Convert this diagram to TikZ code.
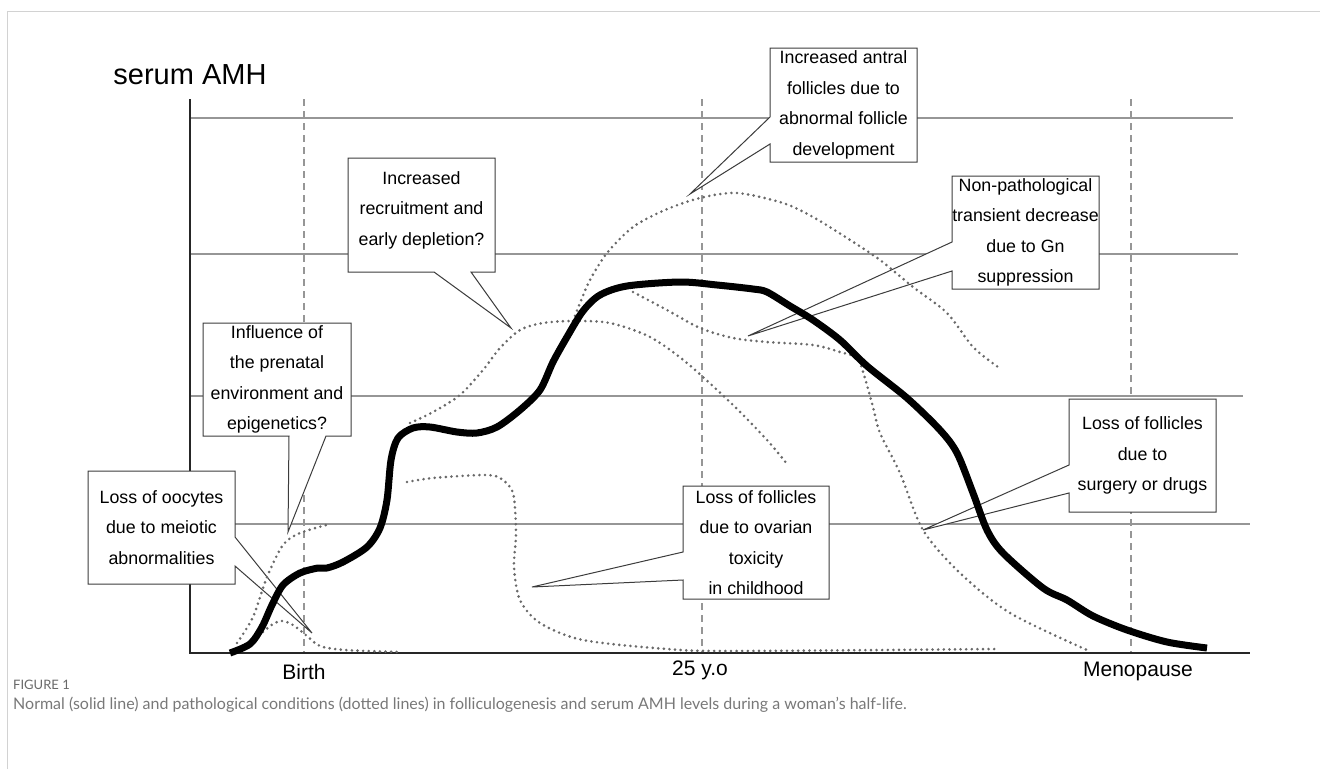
\documentclass[tikz,border=0pt]{standalone}
\usepackage{fontspec}
\setmainfont{Liberation Sans}
\newfontfamily\capfont{Lato}
\begin{document}
\begin{tikzpicture}[x=1pt,y=-1pt,
  gridline/.style={draw={rgb,255:red,150;green,150;blue,150},line width=1.2pt},
  vdash/.style={draw={rgb,255:red,150;green,150;blue,150},line width=1.2pt,dash pattern=on 7pt off 5pt},
  axisline/.style={draw=black!85,line width=1.5pt},
  callout/.style={draw={rgb,255:red,60;green,60;blue,60},fill=white,line width=1pt,line join=miter},
  boxtext/.style={align=center,inner sep=0pt,font=\fontsize{17.8}{30.5}\selectfont},
  axlabel/.style={anchor=base,inner sep=0pt,font=\fontsize{21}{24}\selectfont},
  normal/.style={draw=black,line width=7pt,line cap=butt,line join=round},
  patho/.style={draw={rgb,255:red,105;green,105;blue,105},line width=2.9pt,line cap=round,dash pattern=on 0pt off 5.6pt}
]
\useasboundingbox (0,0) rectangle (1320,769);
% frame
\draw[draw={rgb,255:red,210;green,210;blue,210},line width=1pt] (7,769) -- (7,11) -- (1320,11);
% grid
\coordinate (ax0) at (190,653);
\coordinate (axtop) at (190,99);
\coordinate (axend) at (1250,653);
\draw[gridline] (190,118) -- (1233,118);
\draw[gridline] (190,254) -- (1238,254);
\draw[gridline] (190,396) -- (1243,396);
\draw[gridline] (190,524) -- (1250,524);
\draw[vdash] (304,99) -- (304,653);
\draw[vdash] (702,99) -- (702,653);
\draw[vdash] (1131,99) -- (1131,653);
\draw[axisline] (axtop) -- (ax0) -- (axend);
% labels
\node[anchor=base,inner sep=0pt,font=\fontsize{29}{31}\selectfont] (ylab) at (190,84) {serum AMH};
\node[axlabel] (birth) at (304,679) {Birth};
\node[axlabel] (y25) at (700,675) {25 y.o};
\node[axlabel] (meno) at (1138,676) {Menopause};
% callouts
\draw[callout] (770,48) -- (917,48) -- (917,162) -- (770,162) -- (770,144) -- (690,194) -- (770,117) -- cycle;
\node[boxtext] (antral) at (843.5,105) {Increased antral\\follicles due to\\abnormal follicle\\development};
\draw[callout] (348,158) -- (495,158) -- (495,272) -- (471,272) -- (511,328) -- (434,272) -- (348,272) -- cycle;
\node[boxtext] (recruit) at (421.5,210) {Increased\\recruitment and\\early depletion?};
\draw[callout] (952,176) -- (1099,176) -- (1099,289) -- (952,289) -- (952,271) -- (748,336) -- (952,242) -- cycle;
\node[boxtext] (gn) at (1025.5,232.5) {Non-pathological\\transient decrease\\due to Gn\\suppression};
\draw[callout] (203,323) -- (351,323) -- (351,436) -- (326,436) -- (288,532) -- (289,436) -- (203,436) -- cycle;
\node[boxtext] (prenatal) at (277,379.5) {Influence of\\the prenatal\\environment and\\epigenetics?};
\draw[callout] (88,471) -- (235,471) -- (235,537) -- (312,633) -- (235,566) -- (235,584) -- (88,584) -- cycle;
\node[boxtext] (oocytes) at (161.5,527.5) {Loss of oocytes\\due to meiotic\\abnormalities};
\draw[callout] (683,486) -- (829,486) -- (829,599) -- (683,599) -- (683,580) -- (532,587) -- (683,552) -- cycle;
\node[boxtext] (toxic) at (756,542.5) {Loss of follicles\\due to ovarian\\toxicity\\in childhood};
\draw[callout] (1069,399) -- (1216,399) -- (1216,512) -- (1069,512) -- (1069,493) -- (923,530) -- (1069,465) -- cycle;
\node[boxtext] (surgery) at (1142.5,455.5) {Loss of follicles\\due to\\surgery or drugs};
% pathological curves
\draw[patho] plot[smooth,tension=0.5] coordinates {(237,643) (253,617) (267,577) (283,545) (300,533) (330,524)};
\draw[patho] plot[smooth,tension=0.5] coordinates {(263,632) (273,624) (282,621) (293,625) (307,636) (320,646) (345,650) (400,652)};
\draw[patho] plot[smooth,tension=0.5] coordinates {(410,423) (433,412) (460,395) (483,370) (500,348) (520,330) (543,323) (573,321) (610,323) (650,337) (687,363) (733,405) (767,440) (787,464)};
\draw[patho] plot[smooth,tension=0.5] coordinates {(573,321) (580,303) (590,280) (607,253) (633,227) (665,210) (700,198) (737,193) (783,203) (813,217) (847,238) (880,260) (913,287) (947,313) (973,347) (998,367)};
\draw[patho] plot[smooth,tension=0.5] coordinates {(633,292) (667,310) (700,328) (733,338) (767,342) (813,345) (840,352) (857,358) (864,375) (873,407) (880,433) (900,473) (923,530) (960,573) (1010,613) (1087,650)};
\draw[patho] plot[smooth,tension=0.5] coordinates {(407,482) (433,478) (483,475) (500,478) (513,493) (516,533) (514,567) (520,600) (540,623) (583,640) (667,649) (733,651) (997,649)};
% normal curve
\draw[normal] plot[smooth,tension=0.5] coordinates {(230,653) (250,644) (262,627) (272,605) (283,585) (300,573) (318,568) (327,568) (343,562) (367,547) (380,528) (387,500) (391,460) (398,438) (413,428) (430,427) (457,432) (477,433) (497,427) (520,410) (540,390) (553,362) (567,337) (583,311) (600,295) (627,286) (680,282) (717,285) (753,289) (767,292) (790,306) (813,320) (840,340) (867,366) (907,398) (940,430) (957,453) (973,493) (987,530) (1003,553) (1043,588) (1067,600) (1093,616) (1127,630) (1167,642) (1207,648)};
% caption
\node[anchor=base west,inner sep=0pt,text={rgb,255:red,105;green,105;blue,105},font=\capfont\fontsize{13}{15}\selectfont] (fig) at (13,689) {FIGURE 1};
\node[anchor=base west,inner sep=0pt,text={rgb,255:red,120;green,120;blue,120},font=\capfont\fontsize{16}{18}\selectfont] (cap) at (13,709) {Normal (solid line) and pathological conditions (dotted lines) in folliculogenesis and serum AMH levels during a woman’s half-life.};
\end{tikzpicture}
\end{document}
